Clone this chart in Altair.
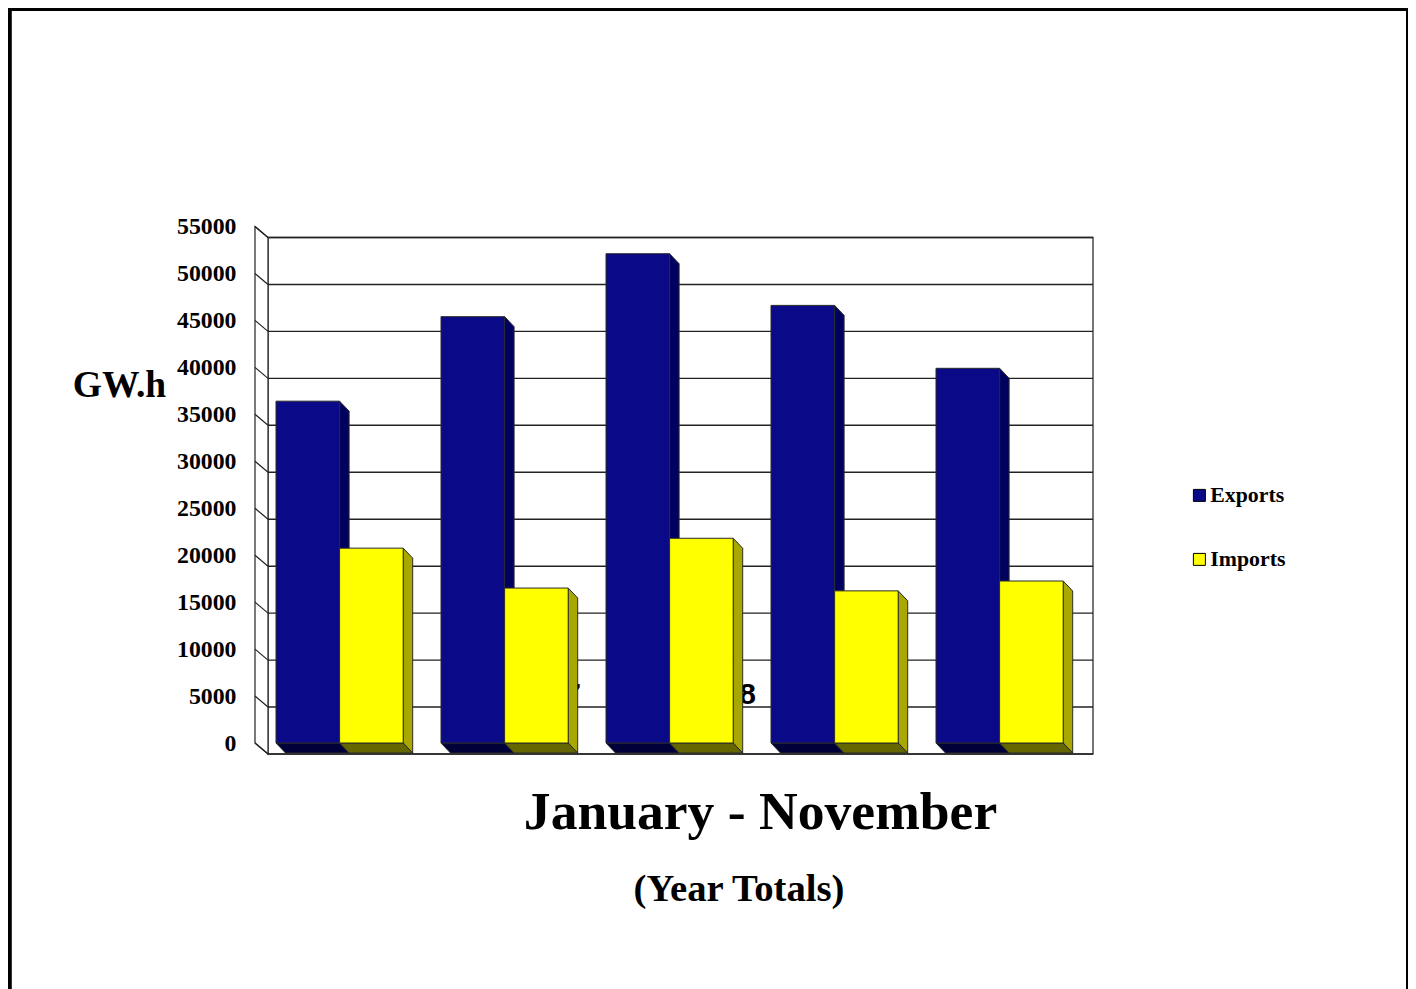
import altair as alt
import pandas as pd

# ---- values ----
YEAR_INDEX = [0, 1, 2, 3, 4]
EXPORTS = [36400, 45400, 52100, 46600, 39900]
IMPORTS = [20750, 16500, 21800, 16200, 17250]
TICKS = [0, 5000, 10000, 15000, 20000, 25000, 30000, 35000, 40000, 45000, 50000, 55000]
SERIES = ["Exports", "Imports"]
HIDDEN_LABELS = ["1997", "1998"]
MAIN_TITLE = ["January - November"]
SUB_TITLE = ["(Year Totals)"]
Y_TITLE = ["GW.h"]

# ---- scale set-up: a "group" unit on x, GWh on y ----
W, H = 1400, 981
PX_PER_GROUP = 165.0
PX_PER_UNIT = 516.5 / 55000
X0 = 276 - 8            # chart pixel of group 0
Y0 = 743 - 8            # chart pixel of value 0
x_scale = alt.Scale(domain=[-X0 / PX_PER_GROUP, (W - X0) / PX_PER_GROUP], range=[0, W], nice=False, zero=False)
y_scale = alt.Scale(domain=[-(H - Y0) / PX_PER_UNIT, Y0 / PX_PER_UNIT], range=[H, 0], nice=False, zero=False)

gx = lambda px: px / PX_PER_GROUP
gy = lambda px: px / PX_PER_UNIT

BAR = gx(63.6)
BAR_DX, BAR_DY = gx(9.5), gy(10)
WALL_DX, WALL_DY = gx(13), gy(11)
WALL_LEFT = gx(255 - 276)
WALL_BACK = WALL_LEFT + WALL_DX
WALL_RIGHT = gx(1093 - 276)
TOP = TICKS[-1]


def X(f="x"):
    return alt.X(f"{f}:Q", scale=x_scale, axis=None)


def Y(f="y"):
    return alt.Y(f"{f}:Q", scale=y_scale, axis=None, stack=None)


# ---- walls ----
back = alt.Chart(pd.DataFrame([dict(x=WALL_BACK, x2=WALL_RIGHT, y=TOP - WALL_DY, y2=-WALL_DY)])).mark_rect(
    fill="white", stroke="#4a4a4a", strokeWidth=1.5
).encode(x=X(), x2="x2:Q", y=Y(), y2="y2:Q")

grid = alt.Chart(pd.DataFrame([dict(x=WALL_BACK, x2=WALL_RIGHT, y=t - WALL_DY) for t in TICKS])).mark_rule(
    color="#222222", strokeWidth=1.4
).encode(x=X(), x2="x2:Q", y=Y())

left_wall = alt.Chart(pd.DataFrame([
    dict(x=WALL_LEFT, y=TOP, y2=0), dict(x=WALL_BACK, y=TOP - WALL_DY, y2=-WALL_DY)
])).mark_area(fill="white", stroke="#222222", strokeWidth=1.2).encode(x=X(), y=Y(), y2="y2:Q")

diag = alt.Chart(pd.DataFrame([
    dict(x=WALL_LEFT, x2=WALL_BACK, y=t, y2=t - WALL_DY) for t in TICKS
])).mark_rule(color="#222222", strokeWidth=1.2).encode(x=X(), x2="x2:Q", y=Y(), y2="y2:Q")

# ---- value labels of the y axis ----
tick_labels = alt.Chart(pd.DataFrame({"y": TICKS})).mark_text(
    align="right", baseline="middle", font="Liberation Serif", fontWeight="bold", fontSize=23.8, color="black",
    dy=0.5,
).encode(x=alt.value(236.5 - 8), y=Y(), text=alt.Text("y:Q", format="d"))


# ---- bars ----
def faces(values, shift, side_color, bottom_color):
    side_rows, bottom_rows = [], []
    for i, v in zip(YEAR_INDEX, values):
        a = i + shift
        b = a + BAR
        side_rows += [dict(g=i, x=b, y=v, y2=0), dict(g=i, x=b + BAR_DX, y=v - BAR_DY, y2=-BAR_DY)]
        bottom_rows += [dict(g=i, x=a, x2=b, y=0), dict(g=i, x=a + BAR_DX, x2=b + BAR_DX, y=-BAR_DY)]
    side = alt.Chart(pd.DataFrame(side_rows)).mark_area(
        fill=side_color, stroke="#2a2a2a", strokeWidth=1
    ).encode(x=X(), y=Y(), y2="y2:Q", detail="g:N")
    bottom = alt.Chart(pd.DataFrame(bottom_rows)).mark_area(
        orient="horizontal", fill=bottom_color, stroke="#2a2a2a", strokeWidth=1
    ).encode(y=Y(), x=X(), x2="x2:Q", detail="g:N")
    return side, bottom


exp_side, exp_bottom = faces(EXPORTS, 0, "#000060", "#000038")
imp_side, imp_bottom = faces(IMPORTS, BAR, "#A8A800", "#666600")

front_rows = []
for i, e, m in zip(YEAR_INDEX, EXPORTS, IMPORTS):
    front_rows.append(dict(s=SERIES[0], x=i, x2=i + BAR, y=e, y2=0))
    front_rows.append(dict(s=SERIES[1], x=i + BAR, x2=i + 2 * BAR, y=m, y2=0))

front = alt.Chart(pd.DataFrame(front_rows)).mark_rect(stroke="#2a2a2a", strokeWidth=1).encode(
    x=X(), x2="x2:Q", y=Y(), y2="y2:Q",
    color=alt.Color("s:N", scale=alt.Scale(domain=SERIES, range=["#0A0A88", "#FFFF00"]), legend=alt.Legend(
        orient="none", legendX=1180.5, legendY=476.5, title=None, padding=0,
        symbolType="square", symbolSize=144, symbolStrokeColor="black", symbolStrokeWidth=1,
        symbolOffset=0, labelFont="Liberation Serif", labelFontWeight="bold", labelFontSize=21.8,
        labelColor="black", labelOffset=0, rowPadding=41, labelLimit=200,
    )),
)


# ---- texts ----
def text(values, px, py, **kw):
    return alt.Chart(pd.DataFrame({"t": values})).mark_text(baseline="middle", color="black", **kw).encode(
        x=alt.value(px - 8), y=alt.value(py - 8), text="t:N"
    )


SERIF = dict(font="Liberation Serif", fontWeight="bold")
year_a = text(HIDDEN_LABELS[:1], 581, 695, font="Liberation Sans", fontWeight="bold", fontSize=30, align="right")
year_b = text(HIDDEN_LABELS[1:], 756, 695, font="Liberation Sans", fontWeight="bold", fontSize=30, align="right")
main_t = text(MAIN_TITLE, 760.5, 812.5, align="center", fontSize=53.6, **SERIF)
sub_t = text(SUB_TITLE, 739, 889, align="center", fontSize=38.7, **SERIF)
y_t = text(Y_TITLE, 119.5, 386, align="center", fontSize=37.5, **SERIF)

# ---- page frame (open at the bottom, as in the picture) ----
frame_top = alt.Chart(pd.DataFrame({"a": [0]})).mark_rule(color="black", strokeWidth=4).encode(
    x=alt.value(0), x2=alt.value(W), y=alt.value(1))
frame_left = alt.Chart(pd.DataFrame({"a": [0]})).mark_rule(color="black", strokeWidth=4).encode(
    y=alt.value(0), y2=alt.value(H), x=alt.value(1.8))
frame_right = alt.Chart(pd.DataFrame({"a": [0]})).mark_rule(color="black", strokeWidth=4).encode(
    y=alt.value(0), y2=alt.value(H), x=alt.value(W))

chart = alt.layer(
    back, grid, left_wall, diag, tick_labels, year_a, year_b,
    exp_side, exp_bottom, imp_side, imp_bottom, front,
    main_t, sub_t, y_t, frame_top, frame_left, frame_right,
).properties(
    width=W, height=H, padding=0, autosize=alt.AutoSizeParams(type="none"), background="white"
).configure_view(stroke=None)

chart.save("out.html", embed_options={"renderer": "svg", "actions": False})
